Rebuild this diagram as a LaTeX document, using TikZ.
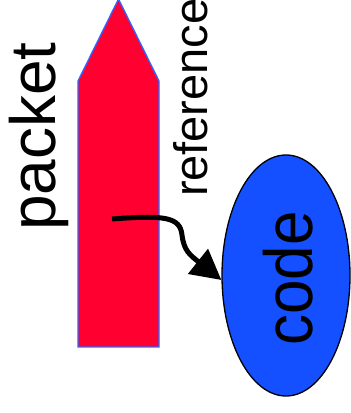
\documentclass[tikz,border=0pt]{standalone}
\usepackage{fontspec}
\setmainfont{Liberation Sans}
\usetikzlibrary{arrows.meta,shapes.geometric}
\definecolor{pktred}{RGB}{255,0,48}
\definecolor{pktedge}{RGB}{50,100,255}
\definecolor{codeblue}{RGB}{20,80,255}
\tikzset{
  lbl/.style={inner sep=0pt, outer sep=0pt, rotate=90, text=black},
  refarrow/.style={line width=5pt, -{Triangle[length=30pt,width=31pt]}},
}
\begin{document}
\begin{tikzpicture}[x=1pt,y=1pt]
\useasboundingbox (0,0) rectangle (351,413);
% packet shape
\draw[fill=pktred, draw=pktedge, line width=1.3pt]
  (78,66) -- (159,66) -- (159,332) -- (118.5,414) -- (78,332) -- cycle;
\node[lbl, anchor=base] (packet) at (55,276.5) {\fontsize{64}{70}\selectfont packet};
\node[lbl, anchor=base west] (reference) at (207,216) {\fontsize{47}{52}\selectfont reference};
\node[ellipse, draw=black, fill=codeblue, line width=1.3pt, inner sep=0pt,
      minimum width=128pt, minimum height=241pt] (code) at (286,137.5) {};
\node[lbl, anchor=base] (codetext) at (312,134.5) {\scalebox{1}[1.1]{\fontsize{62}{68}\selectfont code}};
\coordinate (refstart) at (112,194);
\draw[refarrow] (refstart) .. controls (165,198) and (180,196) .. (182,178)
  .. controls (184,162) and (190,158) .. (code.184);
\end{tikzpicture}
\end{document}
